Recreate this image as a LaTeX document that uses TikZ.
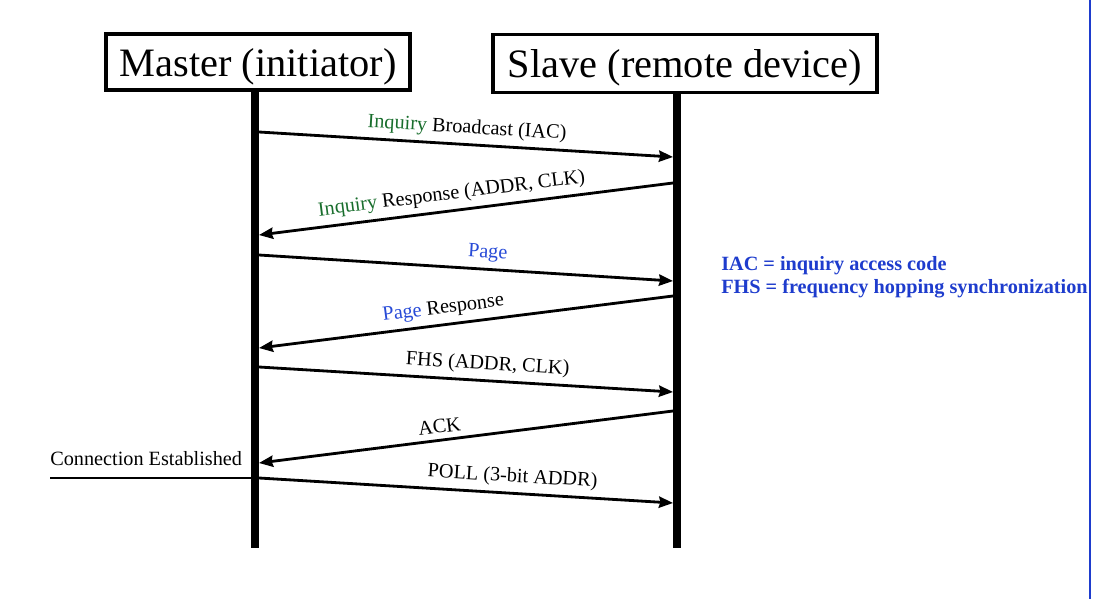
\documentclass[tikz,border=0pt]{standalone}
\usepackage{fontspec}
\setmainfont{Liberation Serif}
\usepackage{xcolor}
\usepackage{tikz}
\usetikzlibrary{arrows.meta}

\definecolor{inqgreen}{RGB}{25,110,45}
\definecolor{pageblue}{RGB}{40,75,215}
\definecolor{noteblue}{RGB}{30,60,205}

\begin{document}
\begin{tikzpicture}[x=0.025cm, y=-0.025cm,
    actor/.style={rectangle, draw, line width=2.8pt, inner sep=0pt, text depth=0pt, font=\fontsize{28.7}{32}\selectfont},
    lifeline/.style={line width=5.7pt},
    msg/.style={line width=2pt, -{Stealth[length=10pt, width=8pt, inset=1pt]}},
    lbl/.style={font=\fontsize{14.4}{17}\selectfont, sloped, above, inner sep=4pt}]
    \useasboundingbox (0,0) rectangle (1093,599);

    \node (master) [actor, minimum width=7.6cm, minimum height=1.4cm] at (258,62) {Master (initiator)};
    \node (slave) [actor, minimum width=9.6cm, minimum height=1.45cm] at (685,63.5) {Slave (remote device)};

    % lifelines
    \coordinate (mbot) at (255,548);
    \coordinate (sbot) at (677,548);
    \draw [lifeline] (master.south -| mbot) -- (mbot);
    \draw [lifeline] (slave.south -| sbot) -- (sbot);

    % message ends on the lifelines
    \coordinate (m1) at (259,132); \coordinate (s1) at (673,157);
    \coordinate (s2) at (673,183); \coordinate (m2) at (259,235);
    \coordinate (m3) at (259,255); \coordinate (s3) at (673,281);
    \coordinate (s4) at (673,296); \coordinate (m4) at (259,348);
    \coordinate (m5) at (259,367); \coordinate (s5) at (673,392);
    \coordinate (s6) at (673,411); \coordinate (m6) at (259,463);
    \coordinate (m7) at (259,478); \coordinate (s7) at (673,503);

    \draw [msg] (m1) -- node[lbl, pos=0.5] {\textcolor{inqgreen}{Inquiry} Broadcast (IAC)} (s1);
    \draw [msg] (s2) -- node[lbl, pos=0.53] {\textcolor{inqgreen}{Inquiry} Response (ADDR, CLK)} (m2);
    \draw [msg] (m3) -- node[lbl, pos=0.55] {\textcolor{pageblue}{Page}} (s3);
    \draw [msg] (s4) -- node[lbl, pos=0.55] {\textcolor{pageblue}{Page} Response} (m4);
    \draw [msg] (m5) -- node[lbl, pos=0.55] {FHS (ADDR, CLK)} (s5);
    \draw [msg] (s6) -- node[lbl, pos=0.56] {ACK} (m6);
    \draw [msg] (m7) -- node[lbl, pos=0.61] {POLL (3-bit ADDR)} (s7);

    \node (conn) [anchor=base west, inner sep=0pt, font=\fontsize{14.4}{17}\selectfont] at (50,465) {Connection Established};
    \coordinate (connL) at (50,478);
    \draw [line width=0.8pt] (connL) -- (m7);

    \node (note) [anchor=north west, inner sep=0pt, align=left, text=noteblue, font=\fontsize{14.4}{16.4}\selectfont\bfseries] at (721,256) {IAC = inquiry access code\\FHS = frequency hopping synchronization};

    \draw [noteblue, line width=1.6pt] (1090,0) -- (1090,599);
\end{tikzpicture}
\end{document}
